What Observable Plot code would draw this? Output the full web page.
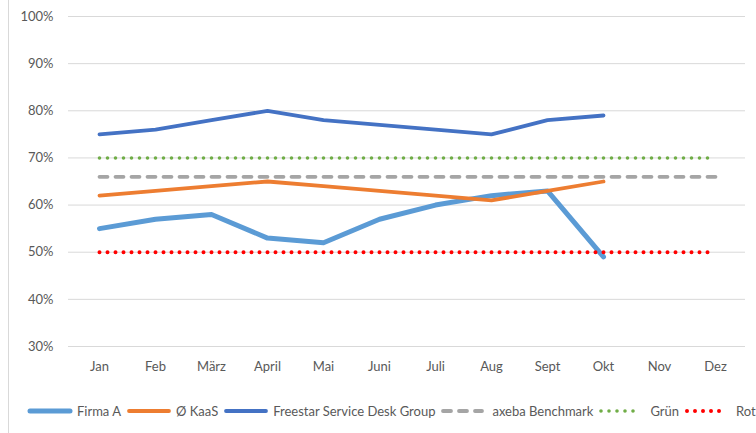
<!DOCTYPE html>
<html><head><meta charset="utf-8">
<script src="https://cdn.jsdelivr.net/npm/d3@7"></script>
<script src="https://cdn.jsdelivr.net/npm/@observablehq/plot@0.6"></script>
<style>
body{margin:0;background:#fff;font-family:Lato,sans-serif;}
#wrap{position:relative;width:756px;height:433px;overflow:hidden;background:#fff;}
#border{position:absolute;left:8px;top:0;width:1px;height:433px;background:#d9d9d9;}
#chart{position:absolute;left:0;top:0;}
#legend{position:absolute;left:27px;top:402px;height:18px;display:flex;align-items:center;font-size:13px;color:#595959;white-space:nowrap;}
.item{display:flex;align-items:center;margin-right:5px;}
.item svg{margin-right:4px;}
</style></head><body>
<div id="wrap"><div id="border"></div><div id="chart"></div><div id="legend"></div></div>
<script>
const months = ["Jan","Feb","März","April","Mai","Juni","Juli","Aug","Sept","Okt","Nov","Dez"];
const yTicks = [30,40,50,60,70,80,90,100];
const firmaA   = [55,57,58,53,52,57,60,62,63,49];
const kaas     = [62,63,64,65,64,63,62,61,63,65];
const freestar = [75,76,78,80,78,77,76,75,78,79];
const benchmark = [66,66,66,66,66,66,66,66,66,66,66,66];
const gruen     = [70,70,70,70,70,70,70,70,70,70,70,70];
const rot       = [50,50,50,50,50,50,50,50,50,50,50,50];
const seriesNames = ["Firma A","Ø KaaS","Freestar Service Desk Group","axeba Benchmark","Grün","Rot"];

const styles = [
  {data: firmaA,   stroke: "#5B9BD5", strokeWidth: 5,   dash: null},
  {data: kaas,     stroke: "#ED7D31", strokeWidth: 3.8, dash: null},
  {data: freestar, stroke: "#4472C4", strokeWidth: 3.8, dash: null},
  {data: benchmark,stroke: "#A5A5A5", strokeWidth: 3.8, dash: "8,8"},
  {data: gruen,    stroke: "#70AD47", strokeWidth: 3.6, dash: "0,8"},
  {data: rot,      stroke: "#FF0000", strokeWidth: 4,   dash: "0,8"}
];

const marks = [Plot.gridY(yTicks, {stroke: "#d9d9d9", strokeOpacity: 1, strokeWidth: 1})];
styles.forEach(s => {
  marks.push(Plot.lineY(s.data, {
    x: (d, i) => months[i], y: d => d,
    stroke: s.stroke, strokeWidth: s.strokeWidth,
    strokeDasharray: s.dash || undefined,
    strokeLinecap: "round", strokeLinejoin: "round"
  }));
});

const chart = Plot.plot({
  width: 756, height: 385,
  marginLeft: 68, marginRight: 11, marginTop: 16, marginBottom: 39,
  style: {fontFamily: "Lato, sans-serif", fontSize: "13px", color: "#595959", background: "transparent"},
  x: {type: "point", domain: months, padding: 0.5, label: null, tickSize: 0, tickPadding: 15},
  y: {domain: [30, 100], ticks: yTicks, tickFormat: d => d + "%", label: null, tickSize: 0, tickPadding: 15},
  marks
});
document.getElementById("chart").appendChild(chart);

const legend = document.getElementById("legend");
seriesNames.forEach((name, i) => {
  const s = styles[i];
  const item = document.createElement("div");
  item.className = "item";
  const dash = s.dash ? `stroke-dasharray="${s.dash}"` : "";
  const solid = !s.dash;
  const w = solid ? 46 : 44;
  const x1 = 3, x2 = solid ? 43 : 42;
  item.innerHTML = `<svg width="${w}" height="10"><line x1="${x1}" x2="${x2}" y1="5" y2="5" stroke="${s.stroke}" stroke-width="${s.strokeWidth}" stroke-linecap="round" ${dash}/></svg><span>${name}</span>`;
  if (s.dash) item.querySelector("svg").style.marginRight = "8px";
  legend.appendChild(item);
});
</script>
</body></html>
